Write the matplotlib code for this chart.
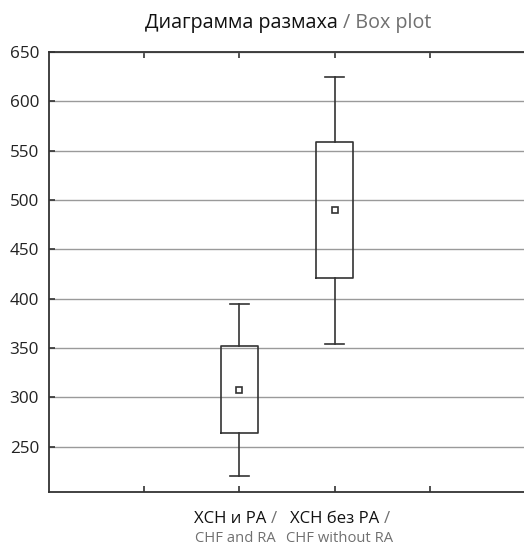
import matplotlib
matplotlib.use("Agg")
import matplotlib.pyplot as plt

# Data
categories_ru = ["ХСН и РА", "ХСН без РА"]
categories_en = ["CHF and RA", "CHF without RA"]
whisker_low = [220.6, 354.4]
q1 = [263.6, 421.0]
center = [307.5, 489.6]
q3 = [351.8, 558.8]
whisker_high = [394.6, 624.7]
positions = [2, 3]
yticks = [250, 300, 350, 400, 450, 500, 550, 600, 650]

plt.rcParams['font.family'] = ['Open Sans', 'DejaVu Sans']

W, H = 524, 545
fig = plt.figure(figsize=(W / 100, H / 100), dpi=100)
ax = fig.add_axes([49/W, 1-492/H, 1-49/W + 0.002, (492-52)/H])

dark = "#333333"
gray = "#707070"

stats = []
for i in range(len(categories_ru)):
    stats.append(dict(whislo=whisker_low[i], q1=q1[i], med=center[i], q3=q3[i],
                      whishi=whisker_high[i], mean=center[i], fliers=[]))

ax.bxp(stats, positions=positions, widths=0.39, capwidths=0.2,
       showmeans=True, showfliers=False, patch_artist=False,
       boxprops=dict(color=dark, linewidth=1.2),
       whiskerprops=dict(color=dark, linewidth=1.2),
       capprops=dict(color=dark, linewidth=1.2),
       medianprops=dict(linewidth=0, alpha=0),
       meanprops=dict(marker='s', markersize=5, markerfacecolor='white',
                      markeredgecolor=dark, markeredgewidth=1.2),
       zorder=3)

ax.set_xlim(0, 5)
ax.set_ylim(204, 650)
ax.set_yticks(yticks)
ax.set_xticks([1, 2, 3, 4])
ax.set_xticklabels([])
ax.yaxis.grid(True, color="#9a9a9a", linewidth=1.0)
ax.set_axisbelow(True)
ax.tick_params(axis='x', direction='in', length=4, width=1.2, color=dark, top=True, bottom=True)
ax.tick_params(axis='y', direction='in', length=4, width=1.2, color=dark, labelsize=12.3,
               labelcolor="#222222", pad=7.2)
for s in ['left', 'bottom', 'top']:
    ax.spines[s].set_color(dark)
    ax.spines[s].set_linewidth(1.3)
ax.spines['right'].set_visible(False)

fig.canvas.draw()
renderer = fig.canvas.get_renderer()


def two_part(x_center_px, y_px, s1, s2, size, c1, c2):
    a = fig.text(0, 0, s1, fontsize=size, color=c1, va='center')
    b = fig.text(0, 0, s2, fontsize=size, color=c2, va='center')
    wa = a.get_window_extent(renderer).width
    wb = b.get_window_extent(renderer).width
    start = x_center_px - (wa + wb) / 2
    a.set_position((start / W, 1 - y_px / H))
    b.set_position(((start + wa) / W, 1 - y_px / H))


# Title
two_part(288, 23, "Диаграмма размаха ", "/ Box plot", 14.2, "#111111", gray)

# X labels
offsets = [-4, 5]
for i, pos in enumerate(positions):
    px = ax.transData.transform((pos, 0))[0] + offsets[i]
    two_part(px, 519, categories_ru[i] + " ", "/", 12.1, "#111111", gray)
    fig.text(px / W, 1 - 538 / H, categories_en[i], fontsize=10.6, color=gray,
             ha='center', va='center')

fig.savefig("out.png", dpi=100)
